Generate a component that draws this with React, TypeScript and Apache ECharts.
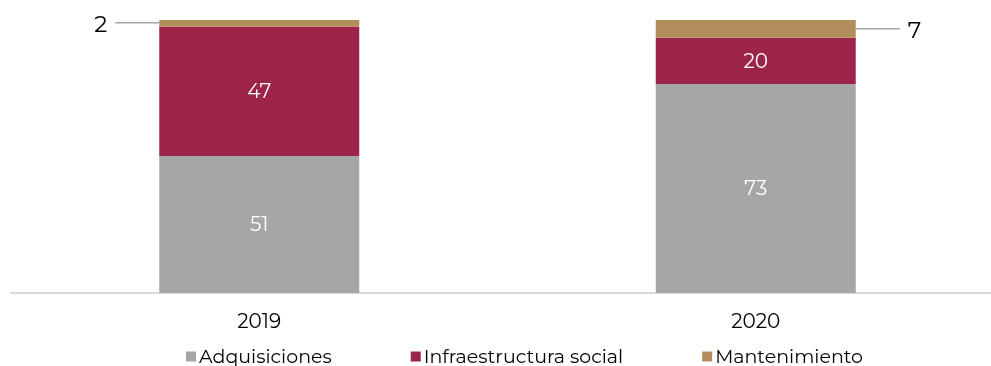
import React, { useEffect, useRef } from "react";
import * as echarts from "echarts";

const categories = ["2019", "2020"];
const seriesNames = ["Adquisiciones", "Infraestructura social", "Mantenimiento"];
const adquisiciones = [50.2, 76.6];
const infraestructura = [47.4, 16.9];
const mantenimiento = [2.4, 6.5];
const labelsAdquisiciones = ["51", "73"];
const labelsInfraestructura = ["47", "20"];
const labelsMantenimiento = ["2", "7"];

const COLORS = ["#A6A6A6", "#9D2449", "#B38E5D"];
const FONT = "Montserrat, 'Noto Sans', sans-serif";

export default function App() {
  const ref = useRef<HTMLDivElement>(null);
  useEffect(() => {
    if (!ref.current) return;
    document.body.style.overflow = "hidden";
    const chart = echarts.init(ref.current, undefined, { renderer: "svg" });
    const inside = (labels: string[]) => ({
      show: true,
      position: "inside",
      color: "#fff",
      fontSize: 20,
      fontFamily: FONT,
      formatter: (p: any) => labels[p.dataIndex],
    });
    const calloutData = categories.map((_, i) => [
      i,
      adquisiciones[i] + infraestructura[i] + mantenimiento[i] / 2,
    ]);
    chart.setOption({
      animation: false,
      textStyle: { fontFamily: FONT },
      grid: { left: 11, right: 0, top: 20, bottom: 73, containLabel: false },
      xAxis: {
        type: "category",
        data: categories,
        axisLine: { lineStyle: { color: "#D9D9D9", width: 2 } },
        axisTick: { show: false },
        axisLabel: { fontSize: 20, color: "#000", margin: 18, fontFamily: FONT },
      },
      yAxis: { type: "value", min: 0, max: 100, show: false },
      legend: {
        data: seriesNames,
        left: 181,
        top: 342,
        icon: "rect",
        itemWidth: 10,
        itemHeight: 10,
        itemGap: 79,
        textStyle: { fontSize: 19, color: "#000", fontFamily: FONT, padding: [0, 0, 0, -2] },
      },
      series: [
        {
          name: seriesNames[0],
          type: "bar",
          stack: "total",
          barWidth: 200,
          data: adquisiciones,
          itemStyle: { color: COLORS[0] },
          label: inside(labelsAdquisiciones),
        },
        {
          name: seriesNames[1],
          type: "bar",
          stack: "total",
          barWidth: 200,
          data: infraestructura,
          itemStyle: { color: COLORS[1] },
          label: inside(labelsInfraestructura),
        },
        {
          name: seriesNames[2],
          type: "bar",
          stack: "total",
          barWidth: 200,
          data: mantenimiento,
          itemStyle: { color: COLORS[2] },
        },
        {
          type: "custom",
          silent: true,
          clip: false,
          z: 10,
          data: calloutData,
          encode: { x: 0, y: 1 },
          renderItem: (params: any, api: any) => {
            const i = params.dataIndex;
            const pt = api.coord([api.value(0), api.value(1)]);
            const side = i === 0 ? -1 : 1;
            const x0 = pt[0] + side * 100;
            const x1 = x0 + side * 44;
            const y = pt[1] - (i === 0 ? 0.5 : 0);
            return {
              type: "group",
              children: [
                {
                  type: "line",
                  shape: { x1: x0, y1: y, x2: x1, y2: y },
                  style: { stroke: "#A6A6A6", lineWidth: 1.5 },
                },
                {
                  type: "text",
                  x: x1 + side * 8,
                  y: y + 1,
                  style: {
                    text: labelsMantenimiento[i],
                    fill: "#000",
                    fontSize: 23,
                    fontFamily: FONT,
                    align: side < 0 ? "right" : "left",
                    verticalAlign: "middle",
                  },
                },
              ],
            };
          },
        },
      ],
    });
    return () => chart.dispose();
  }, []);
  return (
    <div
      ref={ref}
      style={{ position: "fixed", left: 0, top: 0, width: 1004, height: 366 }}
    />
  );
}
